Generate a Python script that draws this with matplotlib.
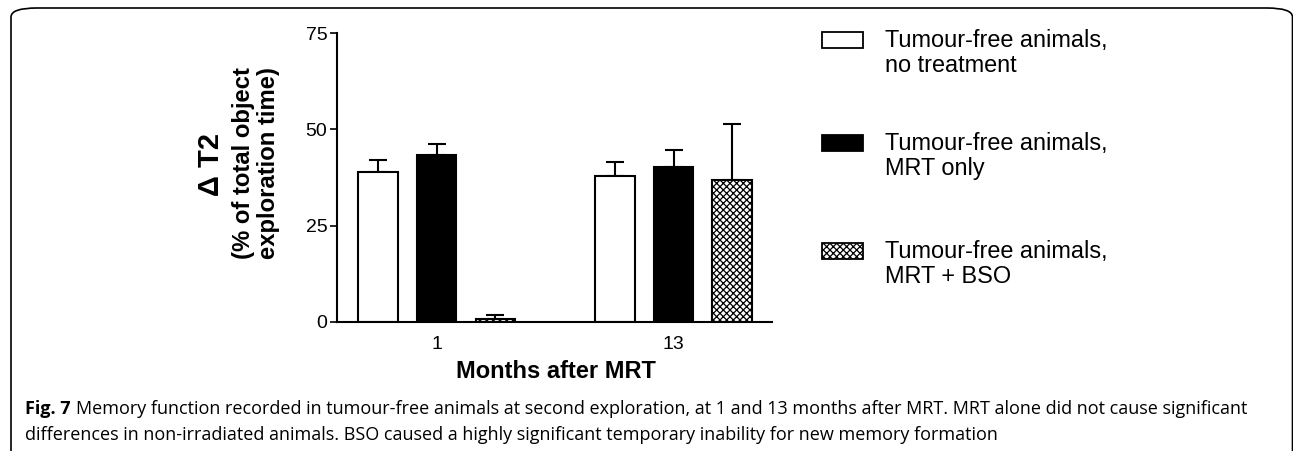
import numpy as np
import matplotlib
matplotlib.use('Agg')
import matplotlib.pyplot as plt
from matplotlib.patches import Rectangle, FancyBboxPatch

# data (mean and upper SEM)
months = ['1', '13']
groups = ['Tumour-free animals,\nno treatment',
          'Tumour-free animals,\nMRT only',
          'Tumour-free animals,\nMRT + BSO']
no_treatment = [39.0, 37.9]
no_treatment_err = [3.1, 3.7]
mrt_only = [43.4, 40.3]
mrt_only_err = [2.8, 4.4]
mrt_bso = [0.8, 36.9]
mrt_bso_err = [1.0, 14.5]

caption_1 = ('Memory function recorded in tumour-free animals at second exploration, '
             'at 1 and 13 months after MRT. MRT alone did not cause significant')
caption_2 = ('differences in non-irradiated animals. BSO caused a highly significant '
             'temporary inability for new memory formation')

plt.rcParams['font.family'] = ['Liberation Sans', 'DejaVu Sans']
plt.rcParams['hatch.linewidth'] = 0.9

W, H = 1293, 451
fig = plt.figure(figsize=(W / 100, H / 100), dpi=100)

def fx(x):
    return x / W

def fy(y):
    return 1 - y / H

# axes placed in pixel terms
ax = fig.add_axes([fx(337), fy(322), fx(772) - fx(337), fy(33) - fy(322)])

group_pos = np.array([1.0, 5.04])
width = 0.67
series = [(no_treatment, no_treatment_err, 'white', ''),
          (mrt_only, mrt_only_err, 'black', ''),
          (mrt_bso, mrt_bso_err, 'white', 'xxxxx')]
for i, (vals, errs, col, hatch) in enumerate(series):
    xs = group_pos + (i - 1)
    ax.bar(xs, vals, width, color=col, edgecolor='black', linewidth=1.5,
           hatch=hatch, zorder=2)
    ax.errorbar(xs, vals, yerr=[np.zeros(len(errs)), errs], fmt='none',
                ecolor='black', elinewidth=1.5, capsize=6.5, capthick=1.5,
                zorder=1)

ax.set_xlim(-0.70, 6.72)
ax.set_ylim(0, 75)
ax.set_yticks([0, 25, 50, 75])
ax.set_xticks(group_pos)
ax.set_xticklabels(months)
ax.tick_params(axis='y', length=5, width=1.2, labelsize=14, pad=2)
ax.tick_params(axis='x', length=0, labelsize=14, pad=10)
for s in ['top', 'right']:
    ax.spines[s].set_visible(False)
for s in ['left', 'bottom']:
    ax.spines[s].set_linewidth(1.5)

# x label and y label
fig.text(fx(556), fy(372), 'Months after MRT', fontsize=17, fontweight='bold',
         ha='center', va='center')
fig.text(fx(211), fy(164), '\u0394 T2', fontsize=21, fontweight='bold',
         rotation=90, ha='center', va='center')
fig.text(fx(256), fy(163), '(% of total object\nexploration time)', fontsize=17.2,
         fontweight='bold', rotation=90, ha='center', va='center',
         linespacing=1.12)

# legend drawn by hand
box_tops = [32, 135, 243]
for lab, (vals, errs, col, hatch), top in zip(groups, series, box_tops):
    fig.add_artist(Rectangle((fx(822), fy(top + 16)), fx(41), 16 / H,
                             facecolor=col, edgecolor='black', linewidth=1.3,
                             hatch=hatch, transform=fig.transFigure))
    fig.text(fx(885), fy(top + 21), lab, fontsize=16.9, ha='left', va='center',
             linespacing=1.08, transform=fig.transFigure)

# caption, fitted so the first line ends where the reference does
cap_font = ['Open Sans', 'DejaVu Sans']
fs = 13.5
t0 = fig.text(fx(25), fy(414), 'Fig. 7', fontsize=fs, fontweight='bold',
              family=cap_font, ha='left', va='baseline')
t1 = fig.text(fx(78), fy(414), caption_1, fontsize=fs, family=cap_font,
              ha='left', va='baseline')
t2 = fig.text(fx(25), fy(440), caption_2, fontsize=fs, family=cap_font,
              ha='left', va='baseline')
r = fig.canvas.get_renderer()
w0 = t0.get_window_extent(r).width
w1 = t1.get_window_extent(r).width
scale = (1250 - 25) / (w0 + w1 + 5)
fs = fs * scale
for t in (t0, t1, t2):
    t.set_fontsize(fs)
w0 = t0.get_window_extent(r).width
t1.set_x(fx(25 + w0 + 5))

# rounded frame, bottom runs off the page edge
fig.add_artist(FancyBboxPatch((fx(11), fy(462)), fx(1281.5), 454 / H,
                              boxstyle='round,pad=0,rounding_size=0.02',
                              facecolor='none', edgecolor='black', linewidth=1.2,
                              transform=fig.transFigure))

fig.savefig('out.png', dpi=100)
